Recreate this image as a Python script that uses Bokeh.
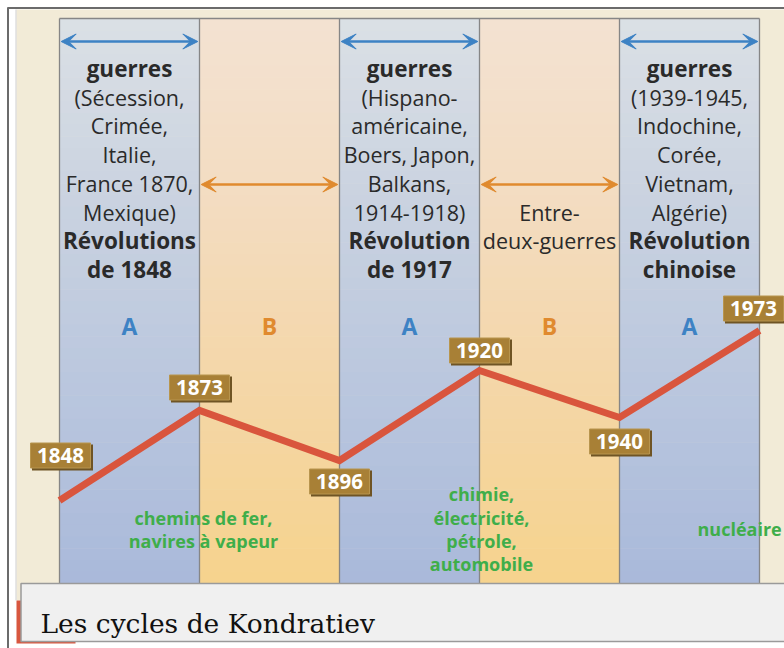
import numpy as np
from bokeh.plotting import figure
from bokeh.models import Range1d, ColumnDataSource, Arrow, VeeHead
from bokeh.core.properties import value
from bokeh.embed import file_html
from bokeh.resources import INLINE

# ---------------- data ----------------
years = ["1848", "1873", "1896", "1920", "1940", "1973"]
levels = [82, 172, 122, 212, 165, 252]          # relative level of the long cycle
phases = ["A", "B", "A", "B", "A"]               # phase between consecutive turning points

war_headers = ["guerres", "guerres", "guerres"]
war_details = [
    ["(Sécession,", "Crimée,", "Italie,", "France 1870,", "Mexique)"],
    ["(Hispano-", "américaine,", "Boers, Japon,", "Balkans,", "1914-1918)"],
    ["(1939-1945,", "Indochine,", "Corée,", "Vietnam,", "Algérie)"],
]
revolutions = [["Révolutions", "de 1848"], ["Révolution", "de 1917"], ["Révolution", "chinoise"]]
interwar = ["Entre-", "deux-guerres"]

innovations = [["chemins de fer,", "navires à vapeur"],
               ["chimie,", "électricité,", "pétrole,", "automobile"],
               ["nucléaire"]]

title = "Les cycles de Kondratiev"

# ---------------- layout helpers (picture pixels -> data) ----------------
X0, DX = 59.0, 140.0      # picture x of first turning point, spacing
YB = 582.0                # picture y of level 0
def X(px): return (px - X0) / DX
def Y(py): return YB - py

W, H = 784, 648
p = figure(width=W, height=H, output_backend="svg", toolbar_location=None,
           x_range=Range1d(X(0), X(W)), y_range=Range1d(Y(H), Y(0)),
           min_border=0, min_border_left=0, min_border_right=0,
           min_border_top=0, min_border_bottom=0)
p.axis.visible = False
p.grid.visible = False
p.outline_line_color = None
p.background_fill_color = "#ffffff"
p.border_fill_color = "#ffffff"

FONT = value("Open Sans")

# page background (beige paper)
p.quad(left=[X(16)], right=[X(800)], top=[Y(9)], bottom=[Y(600)],
       fill_color="#f2ebd7", line_color=None)
p.quad(left=[X(16)], right=[X(75)], top=[Y(600)], bottom=[Y(643)],
       fill_color="#d8573f", line_color=None)
# frame lines
p.segment(x0=[X(7.5)], y0=[Y(7)], x1=[X(7.5)], y1=[Y(660)], line_color="#6b6b6b", line_width=2)
p.segment(x0=[X(7)], y0=[Y(7.5)], x1=[X(800)], y1=[Y(7.5)], line_color="#6b6b6b", line_width=2)
p.segment(x0=[X(15.5)], y0=[Y(9)], x1=[X(15.5)], y1=[Y(600)], line_color="#cfcfcf", line_width=1)

# ---------------- bands with vertical gradient ----------------
def hex2rgb(h): return np.array([int(h[i:i + 2], 16) for i in (1, 3, 5)], float)
def rgb2hex(c): return "#%02x%02x%02x" % tuple(int(round(v)) for v in c)
grad = {"A": ["#dbe0e5", "#c9d2e0", "#b9c6de", "#a9b9da"],
        "B": ["#f3e2d2", "#f3dcc0", "#f4d6a6", "#f6d38d"]}
band_top, band_bot = Y(18), Y(583)
nslices = 48
edges = np.linspace(band_top, band_bot, nslices + 1)
for i, ph in enumerate(phases):
    stops = [hex2rgb(c) for c in grad[ph]]
    L, R, T, B, C = [], [], [], [], []
    for k in range(nslices):
        t = (k + 0.5) / nslices * (len(stops) - 1)
        j = min(int(t), len(stops) - 2)
        f = t - j
        col = stops[j] * (1 - f) + stops[j + 1] * f
        L.append(i); R.append(i + 1); T.append(edges[k]); B.append(edges[k + 1] - 0.5)
        C.append(rgb2hex(col))
    p.quad(left=L, right=R, top=T, bottom=B, fill_color=C, line_color=None)

n = len(years)
p.segment(x0=list(range(n)), y0=[band_top] * n, x1=list(range(n)), y1=[band_bot] * n,
          line_color="#868686", line_width=1.3)
p.segment(x0=[0], y0=[band_top], x1=[n - 1], y1=[band_top], line_color="#868686", line_width=1.3)

# ---------------- arrows ----------------
BLUE, ORANGE = "#3d82c4", "#e08a2e"
for i, ph in enumerate(phases):
    col = BLUE if ph == "A" else ORANGE
    yy = Y(41) if ph == "A" else Y(184)
    p.add_layout(Arrow(x_start=i + 0.012, y_start=yy, x_end=i + 0.988, y_end=yy,
                       line_color=col, line_width=2.5,
                       start=VeeHead(size=15, fill_color=col, line_color=col),
                       end=VeeHead(size=15, fill_color=col, line_color=col)))

# ---------------- band texts ----------------
line_py = [68 + 28.7 * k for k in range(8)]
tx, ty, tt, tb = [], [], [], []
a_idx = [i for i, ph in enumerate(phases) if ph == "A"]
for j, i in enumerate(a_idx):
    lines = [war_headers[j]] + war_details[j] + revolutions[j]
    bold = [True] + [False] * len(war_details[j]) + [True] * len(revolutions[j])
    for k, (s, b) in enumerate(zip(lines, bold)):
        tx.append(i + 0.5); ty.append(Y(line_py[k])); tt.append(s); tb.append(b)
b_idx = [i for i, ph in enumerate(phases) if ph == "B"]
for k, s in enumerate(interwar):
    tx.append(b_idx[1] + 0.5); ty.append(Y(line_py[5 + k])); tt.append(s); tb.append(False)

reg = ColumnDataSource(dict(x=[a for a, b in zip(tx, tb) if not b],
                            y=[a for a, b in zip(ty, tb) if not b],
                            t=[a for a, b in zip(tt, tb) if not b]))
bld = ColumnDataSource(dict(x=[a for a, b in zip(tx, tb) if b],
                            y=[a for a, b in zip(ty, tb) if b],
                            t=[a for a, b in zip(tt, tb) if b]))
p.text(x="x", y="y", text="t", source=reg, text_font=FONT, text_font_size="21.5px",
       text_align="center", text_baseline="middle", text_color="#2a2a2a")
p.text(x="x", y="y", text="t", source=bld, text_font=FONT, text_font_size="22.5px",
       text_font_style="bold", text_align="center", text_baseline="middle", text_color="#2a2a2a")

# phase letters
p.text(x=[i + 0.5 for i in range(len(phases))], y=[Y(325)] * len(phases), text=phases,
       text_font=FONT, text_font_size="23px", text_font_style="bold",
       text_align="center", text_baseline="middle",
       text_color=[BLUE if ph == "A" else ORANGE for ph in phases])

# ---------------- innovations (green) ----------------
GREEN = "#3fae4a"
inno_anchor = [X(203), X(481), X(697)]
inno_py = [[517, 540], [493, 517, 540, 563], [528]]
inno_align = ["center", "center", "left"]
for grp, xa, pys, al in zip(innovations, inno_anchor, inno_py, inno_align):
    p.text(x=[xa] * len(grp), y=[Y(v) for v in pys], text=grp, text_font=FONT,
           text_font_size="18px", text_font_style="bold", text_align=al,
           text_baseline="middle", text_color=GREEN)

# ---------------- cycle line ----------------
xs = list(range(n))
p.line(x=xs, y=levels, line_color="#d9553d", line_width=7, line_join="miter")

# ---------------- year labels ----------------
lab_dx = [1, 0, 0, 0, 0, -6]
lab_dy = [-45, -23, 21, -20, 24, -22]
lx = [x + dx / DX for x, dx in zip(xs, lab_dx)]
ly = [v - dy for v, dy in zip(levels, lab_dy)]
p.rect(x=[v + 2 / DX for v in lx], y=[v - 2 for v in ly], width=61, height=26,
       width_units="screen", height_units="screen", fill_color="#6f5424", line_color=None)
p.rect(x=lx, y=ly, width=60, height=25, width_units="screen", height_units="screen",
       fill_color="#a88036", line_color="#b8954e", line_width=1)
p.text(x=lx, y=ly, text=years, text_font=FONT, text_font_size="20.5px", text_font_style="bold",
       text_align="center", text_baseline="middle", text_color="#ffffff")

# ---------------- caption ----------------
p.quad(left=[X(20.5)], right=[X(800)], top=[Y(583)], bottom=[Y(641)],
       fill_color="#f0f0f0", line_color="#9a9a9a", line_width=1.5)
p.text(x=[X(40)], y=[Y(623)], text=[title], text_font=value("DejaVu Serif"),
       text_font_size="26.5px", text_align="left", text_baseline="alphabetic", text_color="#111111")

open("out.html", "w").write(file_html(p, INLINE))
